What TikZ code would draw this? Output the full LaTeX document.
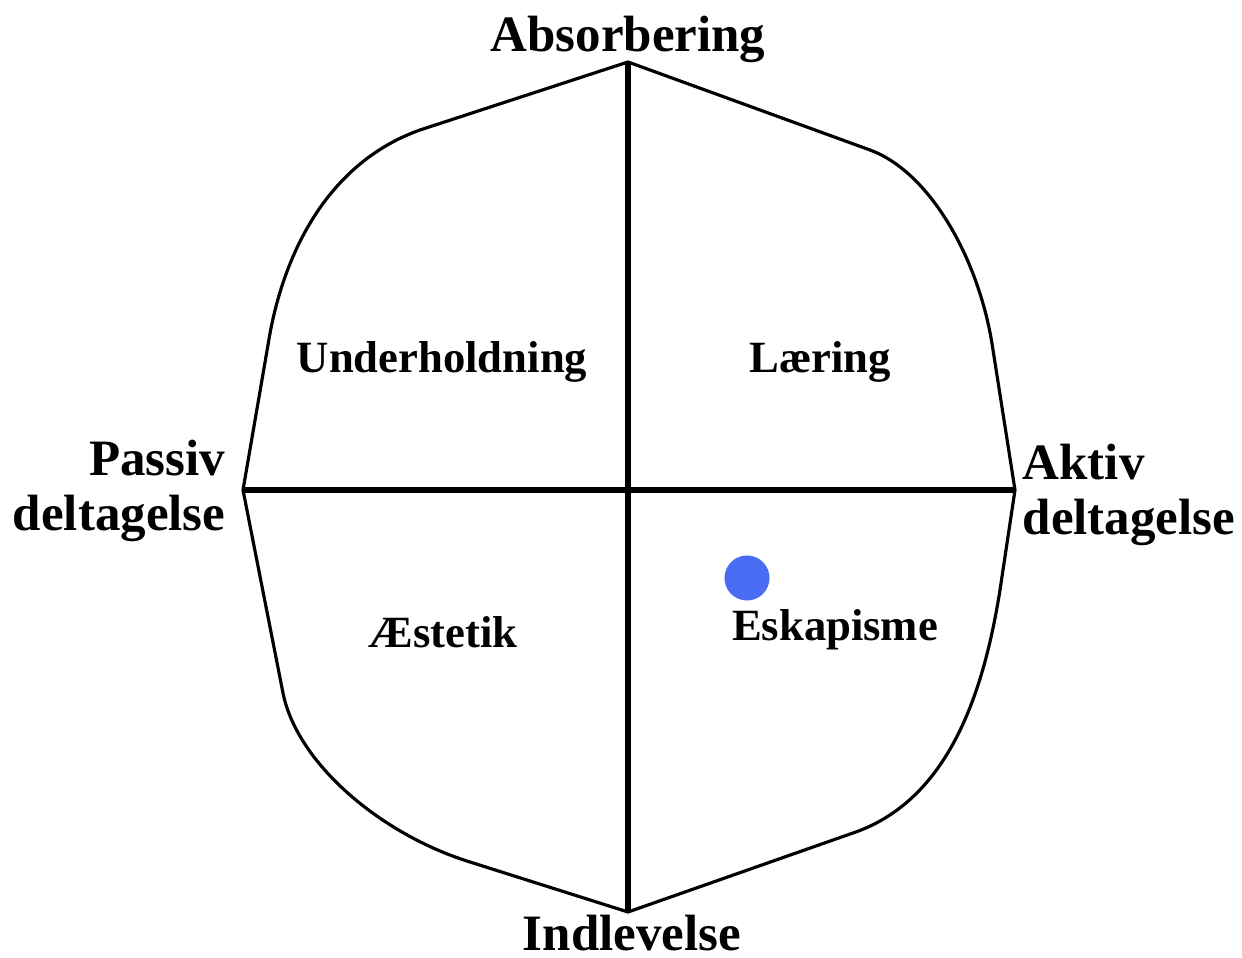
\documentclass[tikz,border=0pt]{standalone}
\usepackage{fontspec}
\setmainfont{Liberation Serif}
\usepackage{tikz}
\usetikzlibrary{positioning}

\definecolor{dotblue}{RGB}{74,108,242}

\begin{document}
\begin{tikzpicture}[
  x=0.01cm, y=-0.01cm,
  axis/.style  = {line width=1.8pt},
  rim/.style   = {line width=0.9pt, line join=round},
  pole/.style  = {font=\fontsize{14.5}{15.6}\selectfont\bfseries, inner sep=0pt},
  field/.style = {font=\fontsize{12.7}{15}\selectfont\bfseries, inner sep=0pt},
  spot/.style  = {circle, fill=dotblue, minimum size=0.45cm, inner sep=0pt},
]

\useasboundingbox (0,0) rectangle (1242,958);

\coordinate (top)    at (628,62);
\coordinate (bottom) at (628,912);
\coordinate (left)   at (243,490);
\coordinate (right)  at (1015,490);

% outer rim
\draw[rim] (top) -- (870,150) .. controls (930,172) and (980,260) .. (993,350)
  -- (right) -- (1000,590) .. controls (984,690) and (950,800) .. (853,833)
  -- (bottom) -- (470,862) .. controls (380,834) and (297,763) .. (283,693)
  -- (left) -- (268,345) .. controls (283,250) and (330,162) .. (420,130)
  -- cycle;

% axes
\draw[axis] (top) -- (bottom);
\draw[axis] (left) -- (right);

\node[pole, anchor=base] (absorb) at (628,52) {Absorbering};
\node[pole, anchor=base] (indlev) at (632,950) {Indlevelse};
\node[pole, anchor=east, align=right] (passiv) at (226,491) {Passiv\\deltagelse};
\node[pole, anchor=west, align=left] (aktiv) at (1022,495) {Aktiv\\deltagelse};

\node[field, anchor=base] (underh) at (442,373) {Underholdning};
\node[field, anchor=base] (laering) at (820,373) {Læring};
\node[field, anchor=base] (aestetik) at (443,647) {Æstetik};
\node[field, anchor=base] (eskap) at (835,640) {Eskapisme};

\node[spot] (dot) at (747,578) {};

\end{tikzpicture}
\end{document}
